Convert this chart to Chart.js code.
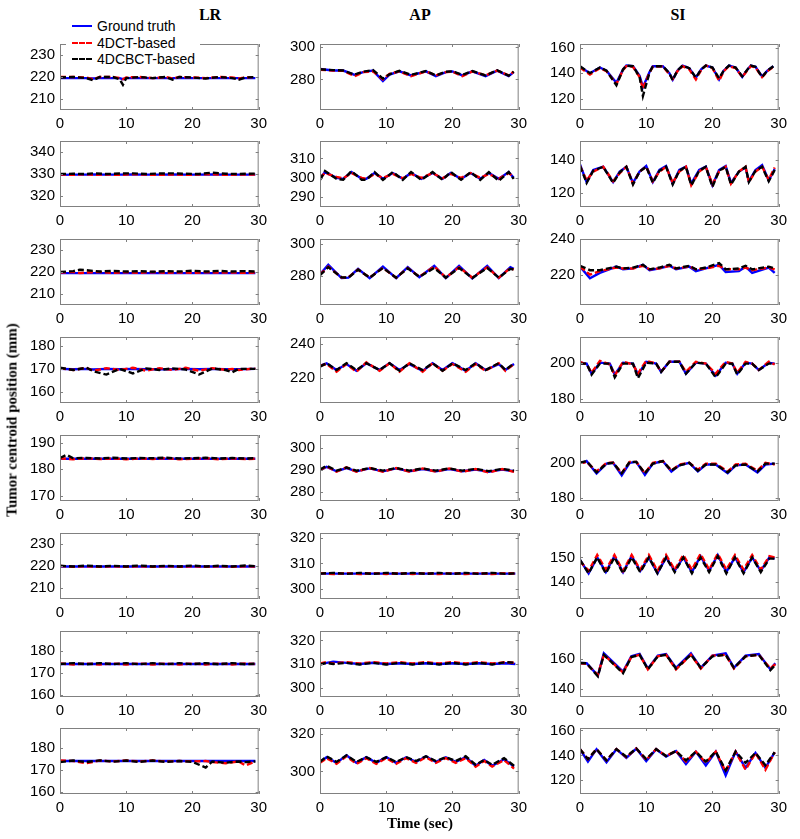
<!DOCTYPE html>
<html>
<head>
<meta charset="utf-8">
<script src="https://cdn.jsdelivr.net/npm/chart.js@4.4.1/dist/chart.umd.min.js"></script>
<style>
  body { margin: 0; background: #fff; }
  #fig { position: relative; width: 800px; height: 839px; overflow: hidden; font-family: Arial, "Liberation Sans", sans-serif; }
  .cell { position: absolute; }
  .title { position: absolute; font-family: "Liberation Serif", "Times New Roman", serif; font-weight: bold; font-size: 16px; transform: translateX(-50%); line-height: 18px; }
  #ylab { position: absolute; left: 12px; top: 420px; transform: translate(-50%, -50%) rotate(-90deg); white-space: nowrap; font-family: "Liberation Serif", serif; font-weight: bold; font-size: 15px; }
  #legend { position: absolute; left: 66px; top: 18px; width: 134px; height: 50px; background: #fff; z-index: 5; font-size: 14px; }
  .lrow { position: absolute; left: 31px; height: 16px; line-height: 16px; white-space: nowrap; }
  .lsw { position: absolute; left: 6px; width: 20px; height: 0; border-top-width: 2px; }
</style>
</head>
<body>
<div id="fig"></div>
<script>
// ---- labels ----
const colTitles = ['LR', 'AP', 'SI'];
const seriesNames = ['Ground truth', '4DCT-based', '4DCBCT-based'];
const seriesColors = ['#0000ff', '#ff0000', '#000000'];
const xTicks = [0, 10, 20, 30];

// y-axis limits and tick labels, row by row (LR, AP, SI)
const yMin = [205, 261, 111,  315, 285, 111,  205, 262, 203,  155, 205, 178,
              168, 276, 178,  205, 296, 133,  159, 296, 135,  159, 288, 109];
const yMax = [235, 302, 163,  345, 319, 152,  235, 303, 240,  184, 244, 214,
              193, 306, 216,  235, 322, 160,  189, 324, 178,  189, 323, 162];
const yTicks = [[210, 220, 230], [280, 300], [120, 140, 160],
                [320, 330, 340], [290, 300, 310], [120, 140],
                [210, 220, 230], [280, 300], [220, 240],
                [160, 170, 180], [220, 240], [180, 200],
                [170, 180, 190], [280, 290, 300], [180, 200],
                [210, 220, 230], [300, 310, 320], [140, 150],
                [160, 170, 180], [300, 310, 320], [140, 160],
                [160, 170, 180], [300, 320], [120, 140, 160]];

// ---- series (time in sec, position in mm) ----
// row 1
const r1lr_t  = [0, 2, 4, 5, 6, 8, 9, 9.5, 10, 12, 14, 16, 17, 18, 20, 22, 24, 26, 27, 28, 29.5];
const r1lr_gt = [219.5, 219.5, 219.5, 219.3, 219.5, 219.5, 219.5, 219, 219.5, 219.5, 219.5, 219.5, 219.5, 219.5, 219.5, 219.5, 219.5, 219.5, 219.5, 219.5, 219.5];
const r1lr_ct = [220, 220, 219.8, 219, 220, 220, 219.5, 219, 219.8, 220, 219.5, 220, 219.3, 220, 219.8, 219.5, 220, 219.8, 219.3, 219.8, 220];
const r1lr_cb = [219.8, 220, 219.5, 218.5, 220, 220, 219, 216.5, 219.5, 220, 219.5, 220, 218.8, 220, 219.8, 219.3, 220, 219.5, 218.8, 219.8, 220];

const r1ap_t  = [0, 1, 2, 3.5, 5.25, 6.5, 8, 9.5, 10.5, 12, 13.75, 16, 17.5, 19, 20, 21.5, 23, 25, 26.75, 28.5, 29.25];
const r1ap_gt = [286.5, 286, 285.5, 285.5, 282.8, 284.5, 285.5, 279, 283, 285, 282.5, 285, 282, 284.5, 285, 282.5, 285, 282, 285.5, 282, 284.5];
const r1ap_ct = [286, 285.8, 285.5, 285.3, 282, 284.5, 285, 280, 283.5, 285, 282, 285, 282.5, 284.5, 284.8, 282, 285, 282.5, 285.5, 282.5, 284.7];
const r1ap_cb = [286.3, 286, 285.8, 285.5, 283, 284.8, 285.8, 280.5, 283.2, 285.3, 282.8, 285.2, 282.5, 284.8, 285, 282.8, 285.2, 282.5, 285.7, 282.3, 284.8];

const r1si_t  = [0, 1.5, 3, 4, 5.5, 6.5, 7, 8, 9, 9.5, 10.5, 11, 12.5, 13.5, 14, 14.7, 15.5, 16.5, 17.5, 18.3, 19, 20, 21, 21.7, 22.5, 23.5, 24.5, 25.3, 25.8, 26.5, 27.5, 28.3, 29.2];
const r1si_gt = [145, 140, 144.5, 142, 132.5, 143, 146, 145.5, 138, 129, 141, 145.5, 145.5, 140, 135, 142, 146, 144, 136.5, 143, 146, 144.5, 135, 142, 146, 144.5, 137, 143, 146, 145, 137.5, 142, 145.5];
const r1si_ct = [144.5, 139, 144, 141.5, 131.5, 142.5, 145.5, 145, 137, 128, 140.5, 145, 145.5, 139, 135.5, 141.5, 145.5, 143, 135, 142.5, 146, 144, 134, 141.5, 145.5, 144, 137, 142.5, 145.5, 144.5, 137, 141.5, 145];
const r1si_cb = [145.5, 140, 144.5, 142, 130.5, 143, 146, 145.5, 137, 122, 140.5, 145.5, 145.5, 140, 134.5, 142, 146, 144, 136.5, 143, 146, 144.5, 136, 142, 146, 144.5, 137.5, 143, 146, 145, 137, 142, 145.5];

// row 2
const r2lr_t  = [0, 2, 4, 5, 7, 9, 11, 13, 15, 17, 19, 21, 23, 25, 27, 29.5];
const r2lr_gt = [329.6, 329.7, 329.7, 329.8, 329.7, 329.7, 329.8, 329.7, 329.7, 329.8, 329.7, 329.7, 329.8, 329.7, 329.7, 329.7];
const r2lr_ct = [329.8, 329.6, 329.9, 329.6, 329.8, 329.6, 329.9, 329.7, 329.6, 329.8, 329.6, 329.8, 329.9, 329.6, 329.8, 329.7];
const r2lr_cb = [330, 330.1, 330, 330.3, 330, 330.2, 330.3, 330, 330.2, 330.3, 330.1, 330, 330.6, 330.1, 330, 330.2];

const r2ap_t  = [0, 0.75, 2.5, 3.5, 4.75, 6.3, 7, 8.25, 9.5, 11, 12.5, 13.75, 15.3, 17, 18.5, 19.75, 21.3, 22.75, 24.2, 25.5, 27, 28.5, 29.25];
const r2ap_gt = [299.5, 303, 300, 299.5, 303, 299.5, 299.5, 302.5, 299.5, 302.5, 299.5, 302.5, 299.5, 302.5, 299.5, 302.5, 299.5, 302.5, 299.5, 302.5, 299.5, 303, 300];
const r2ap_ct = [300, 302.5, 300.5, 299.8, 302.5, 300, 299.5, 302, 300, 302, 299.8, 302, 300, 302.5, 299.8, 302, 300, 302.5, 300, 302, 299.5, 302.5, 300.5];
const r2ap_cb = [299, 303.5, 299.5, 299, 303.5, 299, 299, 303, 299, 303, 299, 303, 299, 303, 299, 303, 299, 303, 299, 303, 298.5, 303, 299.5];

const r2si_t  = [0, 1, 2, 3.5, 5, 6, 7, 8, 9, 10, 11, 12, 13, 14, 15, 16, 16.8, 18, 19, 20, 21, 22, 22.8, 24, 25, 25.5, 26.5, 27.5, 28.5, 29.4];
const r2si_gt = [137.5, 126.5, 134, 136, 126.5, 133, 136, 126, 133, 136.5, 126.5, 134, 136.5, 125.5, 134, 136, 125.5, 134, 136, 124.5, 134, 136.5, 126, 133, 135.5, 127, 134, 137, 127.5, 134.5];
const r2si_ct = [136.5, 127.5, 133, 136, 127, 132, 136, 125.5, 133, 136, 127, 133, 136, 126, 133, 136, 124.5, 133, 136, 125, 133, 136, 125.5, 133, 136, 126.5, 133, 136, 128, 135.5];
const r2si_cb = [136.5, 126, 133.5, 136, 126, 132.5, 136, 125, 133, 136, 126, 133.5, 136, 125, 133.5, 136, 124.5, 133.5, 136, 123.5, 133.5, 136, 125, 133, 136, 126.5, 133.5, 136, 127, 134];

// row 3
const r3lr_t  = [0, 2, 3, 4, 6, 8, 10, 12, 14, 16, 18, 20, 22, 24, 26, 28, 29.5];
const r3lr_gt = [219.5, 219.5, 219.5, 219.5, 219.5, 219.5, 219.5, 219.5, 219.5, 219.5, 219.5, 219.5, 219.5, 219.5, 219.5, 219.5, 219.5];
const r3lr_ct = [219.8, 220, 219.5, 219.8, 220, 219.6, 219.9, 219.6, 220, 219.6, 219.8, 219.6, 219.9, 219.7, 219.8, 219.6, 219.8];
const r3lr_cb = [220, 220.4, 221, 220.8, 220.2, 220.5, 220.2, 220.4, 220.1, 220.4, 220.2, 220.6, 220.2, 220.5, 220.2, 220.4, 220.2];

const r3ap_t  = [0, 1.25, 3.25, 4.3, 5.75, 7.5, 9.5, 11.5, 13.25, 15, 17.25, 19, 21, 23, 25.25, 27, 28.75, 29.25];
const r3ap_gt = [281, 287, 278.7, 279, 284.5, 278.7, 285.8, 278.7, 285.5, 279.3, 286.3, 278.7, 286.3, 278.5, 286.3, 278.7, 285.5, 284.5];
const r3ap_ct = [281, 285.8, 279, 279.3, 284, 279, 285, 279, 285, 279.5, 286, 279, 285.5, 279, 285.5, 279, 285, 284];
const r3ap_cb = [280.5, 285.5, 279.2, 279, 284, 279, 285, 279, 284.8, 279.5, 285, 279, 285, 278.8, 285, 279, 284.5, 284];

const r3si_t  = [0, 1.5, 3, 5.5, 6.5, 8, 9.5, 10.5, 12, 13.5, 14.5, 16.5, 17.5, 19, 21, 22, 24, 25, 26, 28.5, 29.4];
const r3si_gt = [224.5, 218, 221, 224.5, 223, 223.5, 225.5, 222.5, 223.5, 225, 223, 224.5, 222, 223.5, 225.5, 221.5, 222, 224.5, 221, 224, 221];
const r3si_ct = [224.5, 220, 222, 224, 223.5, 223.5, 225, 223, 223.5, 225, 223.5, 224.5, 223, 223.5, 225, 223, 223, 224, 222.5, 224, 223];
const r3si_cb = [225, 222.5, 222.5, 224.5, 223.5, 224, 225.5, 223, 224, 225.5, 223.5, 225, 223, 224, 226.5, 223, 223.5, 225, 223, 224.5, 223.5];

// row 4
const r4lr_t  = [0, 2, 4, 5, 7, 9, 11, 13, 15, 17, 19, 21, 23, 25, 26, 27, 29.5];
const r4lr_gt = [170, 169.8, 170, 169.7, 170, 169.8, 170, 169.8, 169.9, 169.8, 170, 169.8, 170, 169.8, 169.9, 169.8, 170];
const r4lr_ct = [170.3, 169.5, 170.5, 169.2, 170.3, 169.5, 170.5, 169.2, 170.3, 169.5, 170.5, 169.2, 170.3, 169.6, 170, 169.5, 170.2];
const r4lr_cb = [170.5, 169.5, 170.5, 169, 167.5, 170, 168, 170.2, 169.5, 170.2, 169.7, 167.5, 170.2, 169.5, 168.5, 170, 170];

const r4ap_t  = [0, 1, 2.5, 4, 5.5, 7, 9, 10.5, 12, 13.5, 15.5, 17, 18.5, 20, 22, 23.5, 25, 27, 28, 29.3];
const r4ap_gt = [227, 228.5, 224.5, 228, 224, 228.5, 224.5, 228.5, 224.5, 228, 224, 228.5, 224.5, 228.5, 224, 228.5, 224.5, 228, 224.5, 228];
const r4ap_ct = [227, 228, 223.5, 228, 223.5, 229, 224, 228.5, 223.5, 228.5, 223.5, 228.5, 224, 228, 223.5, 228, 224, 228.5, 224, 228];
const r4ap_cb = [226.5, 228.5, 224.5, 228.5, 224.5, 228.5, 224.5, 228.5, 224, 228.5, 224.5, 228.5, 224, 228.5, 224.5, 228.5, 224.5, 228.5, 224.5, 228.5];

const r4si_t  = [0, 1, 1.75, 3, 4.5, 5.25, 6.5, 8, 8.75, 10, 11.5, 12.25, 13.5, 15, 16, 17.5, 19, 20.5, 22, 23, 23.75, 25, 26, 27, 28.5, 29.4];
const r4si_gt = [200, 199.5, 194, 200, 199.5, 193.5, 200, 199.5, 193.5, 200.5, 199.5, 195, 200.5, 200.5, 194, 200, 199.5, 193, 200, 199.5, 194, 200, 199.5, 196, 200, 199.5];
const r4si_ct = [200.5, 199, 194.5, 201, 199, 193, 200.5, 199, 194, 201, 199.5, 195, 200.5, 200.5, 195, 200.5, 199.5, 194, 200.5, 199.5, 194.5, 200.5, 199.5, 196, 200.5, 199];
const r4si_cb = [199.5, 199.5, 193.5, 199.5, 199.5, 192, 199.5, 199.5, 191.5, 200, 199.5, 195, 200.5, 200.5, 194, 200, 199.5, 192, 199.5, 199.5, 193.5, 199.5, 199.5, 196, 199.5, 199.5];

// row 5
const r5lr_t  = [0, 1, 2, 4, 6, 8, 10, 12, 14, 16, 18, 20, 22, 24, 26, 28, 29.5];
const r5lr_gt = [184, 184, 184, 184, 184, 184, 184, 184, 184, 184, 184, 184, 184, 184, 184, 184, 184];
const r5lr_ct = [184.2, 184, 183.8, 184.2, 183.9, 184.1, 183.8, 184.1, 183.9, 184.2, 183.8, 184, 184.2, 183.8, 184.1, 183.9, 184];
const r5lr_cb = [184.3, 185.5, 184.2, 184.3, 184.1, 184.4, 184.1, 184.3, 184.2, 184.4, 184.1, 184.2, 184.4, 184.1, 184.3, 184.1, 184.2];

const r5ap_t  = [0, 1, 2.5, 4, 5.5, 7.5, 9.5, 11.5, 13.5, 15.5, 17.5, 19.5, 21.5, 23.5, 25.5, 27.5, 29.3];
const r5ap_gt = [290, 291.5, 289.5, 291, 289.5, 290.8, 289.5, 290.8, 289.5, 290.5, 289.5, 290.5, 289.5, 290.3, 289.3, 290.3, 289.5];
const r5ap_ct = [290, 291.8, 289.3, 291.3, 289.3, 291, 289.3, 291, 289.3, 290.8, 289.3, 290.8, 289.3, 290.5, 289, 290.5, 289.3];
const r5ap_cb = [290.3, 292, 289.8, 291.2, 289.8, 291, 289.8, 291, 289.8, 290.8, 289.8, 290.8, 289.8, 290.6, 289.6, 290.6, 289.8];

const r5si_t  = [0, 0.5, 1, 2.5, 4, 5, 6.3, 7.5, 8.5, 9.8, 11, 12.5, 13.8, 15, 16.5, 17.8, 19, 20.5, 22.3, 23.5, 25, 26.8, 28, 29.4];
const r5si_gt = [200, 200, 201, 193.8, 199.5, 200, 192.8, 200, 200.5, 193, 199.5, 201, 195, 198.5, 200, 195, 199, 199, 194, 198.5, 199, 194.5, 199, 199.5];
const r5si_ct = [200.5, 200, 200.5, 195, 200, 200, 194, 200.5, 200.5, 194, 200, 201, 195.5, 199, 200, 196, 199.5, 199.5, 195, 199, 199.5, 195.5, 200, 199];
const r5si_cb = [200, 200.5, 201, 194.5, 199.5, 200, 194, 200.5, 200.5, 194, 199.5, 201, 195.5, 198.5, 200, 195.5, 199, 199, 194.5, 198.5, 199, 195, 199.5, 199.5];

// row 6
const r6lr_t  = [0, 2, 4, 6, 8, 10, 12, 14, 16, 18, 20, 22, 24, 26, 28, 29.5];
const r6lr_gt = [219.8, 219.8, 219.8, 219.8, 219.8, 219.8, 219.8, 219.8, 219.8, 219.8, 219.8, 219.8, 219.8, 219.8, 219.8, 219.8];
const r6lr_ct = [220, 219.6, 219.9, 219.6, 219.9, 219.6, 219.9, 219.6, 219.9, 219.6, 219.9, 219.6, 219.9, 219.6, 219.9, 219.7];
const r6lr_cb = [220.1, 219.8, 220.2, 219.8, 220.1, 219.8, 220.2, 219.8, 220.1, 219.8, 220.2, 219.8, 220.1, 219.8, 220.2, 219.9];

const r6ap_t  = [0, 2, 4, 6, 8, 10, 12, 14, 16, 18, 20, 22, 24, 26, 28, 29.5];
const r6ap_gt = [306, 306, 306, 306, 306, 306, 306, 306, 306, 306, 306, 306, 306, 306, 306, 306];
const r6ap_ct = [306.2, 305.8, 306.2, 305.8, 306.2, 305.8, 306.2, 305.8, 306.2, 305.8, 306.2, 305.8, 306.2, 305.8, 306.2, 306];
const r6ap_cb = [306, 306.3, 305.9, 306.3, 305.9, 306.3, 305.9, 306.3, 305.9, 306.3, 305.9, 306.3, 305.9, 306.3, 305.9, 306.1];

const r6si_t  = [0, 1.3, 2.6, 3.9, 5.2, 6.5, 7.8, 9.1, 10.4, 11.7, 13, 14.3, 15.6, 16.9, 18.2, 19.5, 20.8, 22.1, 23.4, 24.7, 26, 27.3, 28.6, 29.4];
const r6si_gt = [149, 143.5, 150, 144, 150.5, 144, 150.5, 144.5, 150, 143.5, 150, 144.5, 150, 144, 150.5, 144.5, 151, 144, 150, 144, 150, 144.5, 150, 149.5];
const r6si_ct = [148.5, 144.5, 151, 145, 151, 144.5, 151, 145, 151, 144.5, 151, 145, 151, 145, 151.5, 145, 151.5, 145, 151, 145, 151, 145, 150.5, 150];
const r6si_cb = [149, 143.5, 150, 143.5, 150, 143.5, 150, 144, 150, 143.5, 150, 144, 150, 143.5, 150, 144, 150.5, 143.5, 150, 143.5, 150, 144, 149.5, 149.5];

// row 7
const r7lr_t  = [0, 2, 4, 6, 8, 10, 12, 14, 16, 18, 20, 22, 24, 26, 28, 29.5];
const r7lr_gt = [174, 174, 174, 174, 174, 174, 174, 174, 174, 174, 174, 174, 174, 174, 174, 174];
const r7lr_ct = [174.2, 173.8, 174.2, 173.8, 174.2, 173.8, 174.2, 173.8, 174.2, 173.8, 174.2, 173.8, 174.2, 173.8, 174.2, 174];
const r7lr_cb = [174, 174.4, 173.9, 174.4, 173.9, 174.4, 173.9, 174.4, 173.9, 174.4, 173.9, 174.4, 173.9, 174.4, 173.9, 174.1];

const r7ap_t  = [0, 1, 2, 4, 6, 8, 10, 12, 14, 16, 18, 20, 22, 24, 26, 28, 29.5];
const r7ap_gt = [310, 310.5, 311, 310.5, 310, 310.5, 310, 310.3, 310, 310.3, 310, 310.3, 310, 310.3, 310, 310.3, 310];
const r7ap_ct = [310.2, 310.8, 310.2, 310.8, 310.2, 310.8, 310.2, 310.8, 310.2, 310.8, 310.2, 310.8, 310.2, 310.8, 310.2, 310.8, 310.5];
const r7ap_cb = [309.8, 310.5, 310, 310.5, 309.8, 310.5, 309.8, 310.5, 309.8, 310.5, 309.8, 310.5, 309.8, 310.5, 309.8, 310.8, 310.5];

const r7si_t  = [0, 1, 2.7, 3.6, 6.5, 7.75, 9, 10.25, 11.75, 13, 14.5, 16.75, 18.25, 20, 22, 23.25, 25, 27, 28.75, 29.5];
const r7si_gt = [157.2, 157, 149, 163.5, 151.5, 161.5, 163, 153.5, 162, 163, 154, 163.5, 154, 162, 163.5, 154, 162, 163, 153, 157];
const r7si_ct = [157, 156.5, 149.5, 162.5, 151, 161, 162.5, 153, 161.5, 162.5, 153, 162.5, 153.5, 162, 162.5, 153.5, 161.5, 162.5, 153.5, 156.5];
const r7si_cb = [157.2, 157, 148.5, 162.5, 150.5, 161, 162.5, 153, 161.5, 162.5, 153.5, 162.5, 154, 161.5, 162.5, 154, 161.5, 162.5, 152.5, 156];

// row 8
const r8lr_t  = [0, 2, 4, 6, 8, 10, 12, 14, 16, 18, 20, 22, 23, 25, 27, 28, 29.5];
const r8lr_gt = [174, 174, 174, 174, 174, 174, 174, 174, 174, 174, 174, 174, 174, 174, 174, 174, 174];
const r8lr_ct = [174.2, 174, 173, 174.2, 173.8, 174.2, 173.8, 174.2, 173.8, 174, 173.8, 174, 173.5, 173, 173.8, 172, 173.8];
const r8lr_cb = [173.5, 174.2, 173.5, 174.3, 173.7, 174.2, 173.6, 174.2, 173.6, 174, 173.6, 171, 173.8, 173.2, 173.8, 173.5, 173.8];

const r8ap_t  = [0, 1, 2.5, 4, 5.5, 7, 8.5, 10, 11.5, 13, 14.5, 16, 17.5, 19, 20.5, 22, 23.5, 24.8, 26, 27.8, 29.3];
const r8ap_gt = [305, 307.5, 304.5, 308.5, 304.5, 307.5, 304.5, 307.5, 304.5, 307.5, 305, 308, 305, 307.5, 305, 307.5, 303, 306, 303, 306.5, 302.5];
const r8ap_ct = [304.5, 307, 304, 308, 304, 307, 304, 307, 304, 307, 304.5, 307.5, 304.5, 307, 304.5, 307, 302.5, 305.5, 302.5, 306, 301.5];
const r8ap_cb = [305, 308, 305, 308.5, 305, 307.5, 305, 307.5, 305, 307.5, 305.5, 308, 305.5, 307.5, 305.5, 308, 303.5, 306, 303.5, 307, 303];

const r8si_t  = [0, 1.2, 2.5, 4, 5.5, 7, 8.5, 10, 11.5, 13, 14.5, 16, 17.5, 19, 20.5, 22, 23.5, 25, 26.5, 28, 29.4];
const r8si_gt = [145, 135, 145, 134.5, 145, 138, 145.5, 135.5, 145, 139, 143.5, 133, 143, 132, 143, 124, 143, 130, 142, 130, 142.5];
const r8si_ct = [145, 137, 145, 136, 145, 138.5, 145.5, 136.5, 145, 139.5, 143.5, 135, 143, 134, 143, 127, 143, 128.5, 142, 128.5, 142.5];
const r8si_cb = [145, 137, 145, 136, 145, 139, 145.5, 137, 145, 139.5, 143.5, 136, 143, 135, 143, 128, 143, 134, 142, 132, 142.5];

const panelData = [
  [r1lr_t, r1lr_gt, r1lr_ct, r1lr_cb], [r1ap_t, r1ap_gt, r1ap_ct, r1ap_cb], [r1si_t, r1si_gt, r1si_ct, r1si_cb],
  [r2lr_t, r2lr_gt, r2lr_ct, r2lr_cb], [r2ap_t, r2ap_gt, r2ap_ct, r2ap_cb], [r2si_t, r2si_gt, r2si_ct, r2si_cb],
  [r3lr_t, r3lr_gt, r3lr_ct, r3lr_cb], [r3ap_t, r3ap_gt, r3ap_ct, r3ap_cb], [r3si_t, r3si_gt, r3si_ct, r3si_cb],
  [r4lr_t, r4lr_gt, r4lr_ct, r4lr_cb], [r4ap_t, r4ap_gt, r4ap_ct, r4ap_cb], [r4si_t, r4si_gt, r4si_ct, r4si_cb],
  [r5lr_t, r5lr_gt, r5lr_ct, r5lr_cb], [r5ap_t, r5ap_gt, r5ap_ct, r5ap_cb], [r5si_t, r5si_gt, r5si_ct, r5si_cb],
  [r6lr_t, r6lr_gt, r6lr_ct, r6lr_cb], [r6ap_t, r6ap_gt, r6ap_ct, r6ap_cb], [r6si_t, r6si_gt, r6si_ct, r6si_cb],
  [r7lr_t, r7lr_gt, r7lr_ct, r7lr_cb], [r7ap_t, r7ap_gt, r7ap_ct, r7ap_cb], [r7si_t, r7si_gt, r7si_ct, r7si_cb],
  [r8lr_t, r8lr_gt, r8lr_ct, r8lr_cb], [r8ap_t, r8ap_gt, r8ap_ct, r8ap_cb], [r8si_t, r8si_gt, r8si_ct, r8si_cb]
];

// ---- layout ----
const plotLeft = [60, 320, 580];
const plotTop = [38, 135, 233, 331, 429, 527, 625, 722];
const titleX = [210, 420, 678];
const plotW = 200, plotH = 72;
const padL = 50, padT = 8, padR = 12, padB = 26;
const tickFont = { family: 'Arial, "Liberation Sans", sans-serif', size: 15 };

// frame + inward ticks like matlab
const boxPlugin = {
  id: 'box',
  afterDraw(chart) {
    const { ctx, chartArea: a, scales } = chart;
    ctx.save();
    ctx.strokeStyle = '#808080';
    ctx.lineWidth = 1;
    ctx.strokeRect(a.left + 0.5, a.top + 0.5, a.width - 1, a.height - 1);
    ctx.beginPath();
    scales.x.ticks.forEach(tk => {
      const px = Math.round(scales.x.getPixelForValue(tk.value)) + 0.5;
      ctx.moveTo(px, a.bottom); ctx.lineTo(px, a.bottom - 3);
      ctx.moveTo(px, a.top); ctx.lineTo(px, a.top + 3);
    });
    scales.y.ticks.forEach(tk => {
      const py = Math.round(scales.y.getPixelForValue(tk.value)) + 0.5;
      ctx.moveTo(a.left, py); ctx.lineTo(a.left + 3, py);
      ctx.moveTo(a.right, py); ctx.lineTo(a.right - 3, py);
    });
    ctx.stroke();
    ctx.restore();
  }
};

const fig = document.getElementById('fig');

colTitles.forEach((t, c) => {
  const d = document.createElement('div');
  d.className = 'title';
  d.textContent = t;
  d.style.left = titleX[c] + 'px';
  d.style.top = '6px';
  fig.appendChild(d);
});

panelData.forEach((p, i) => {
  const row = Math.floor(i / 3), col = i % 3;
  const W = padL + plotW + padR, H = padT + plotH + padB;
  const cell = document.createElement('div');
  cell.className = 'cell';
  cell.style.left = (plotLeft[col] - padL) + 'px';
  cell.style.top = (plotTop[row] - padT) + 'px';
  const cv = document.createElement('canvas');
  cv.width = W; cv.height = H;
  cell.appendChild(cv);
  fig.appendChild(cell);

  const t = p[0];
  const datasets = [1, 2, 3].map(k => ({
    label: seriesNames[k - 1],
    data: t.map((x, j) => ({ x: x, y: p[k][j] })),
    borderColor: seriesColors[k - 1],
    borderWidth: 2.4,
    borderDash: k === 1 ? [] : [6, 3],
    pointRadius: 0,
    tension: 0,
    fill: false,
    order: 3 - k
  }));

  new Chart(cv, {
    type: 'line',
    data: { datasets },
    options: {
      responsive: false,
      animation: false,
      devicePixelRatio: 1,
      layout: { padding: { top: padT, right: padR, left: 0, bottom: 0 } },
      plugins: { legend: { display: false }, tooltip: { enabled: false } },
      scales: {
        x: {
          type: 'linear', min: 0, max: 30,
          grid: { display: false, drawTicks: false },
          border: { display: false },
          afterBuildTicks: s => { s.ticks = xTicks.map(v => ({ value: v })); },
          afterFit: s => { s.height = padB; },
          ticks: { font: tickFont, color: '#000', padding: 5, maxRotation: 0 }
        },
        y: {
          type: 'linear', min: yMin[i], max: yMax[i],
          grid: { display: false, drawTicks: false },
          border: { display: false },
          afterBuildTicks: s => { s.ticks = yTicks[i].map(v => ({ value: v })); },
          afterFit: s => { s.width = padL; },
          ticks: { font: tickFont, color: '#000', padding: 5 }
        }
      }
    },
    plugins: [boxPlugin]
  });
});

// legend sitting on the first panel
const lg = document.createElement('div');
lg.id = 'legend';
seriesNames.forEach((n, k) => {
  const sw = document.createElement('div');
  sw.className = 'lsw';
  sw.style.top = (8 + k * 16.5 - 1) + 'px';
  sw.style.borderTopStyle = k === 0 ? 'solid' : 'dashed';
  sw.style.borderTopColor = seriesColors[k];
  lg.appendChild(sw);
  const tx = document.createElement('div');
  tx.className = 'lrow';
  tx.style.top = (k * 16.5) + 'px';
  tx.textContent = n;
  lg.appendChild(tx);
});
fig.appendChild(lg);

const yl = document.createElement('div');
yl.id = 'ylab';
yl.textContent = 'Tumor centroid position (mm)';
fig.appendChild(yl);

const xl = document.createElement('div');
xl.className = 'title';
xl.textContent = 'Time (sec)';
xl.style.left = (plotLeft[1] + plotW / 2) + 'px';
xl.style.top = '814px';
xl.style.fontSize = '15px';
fig.appendChild(xl);
</script>
</body>
</html>
